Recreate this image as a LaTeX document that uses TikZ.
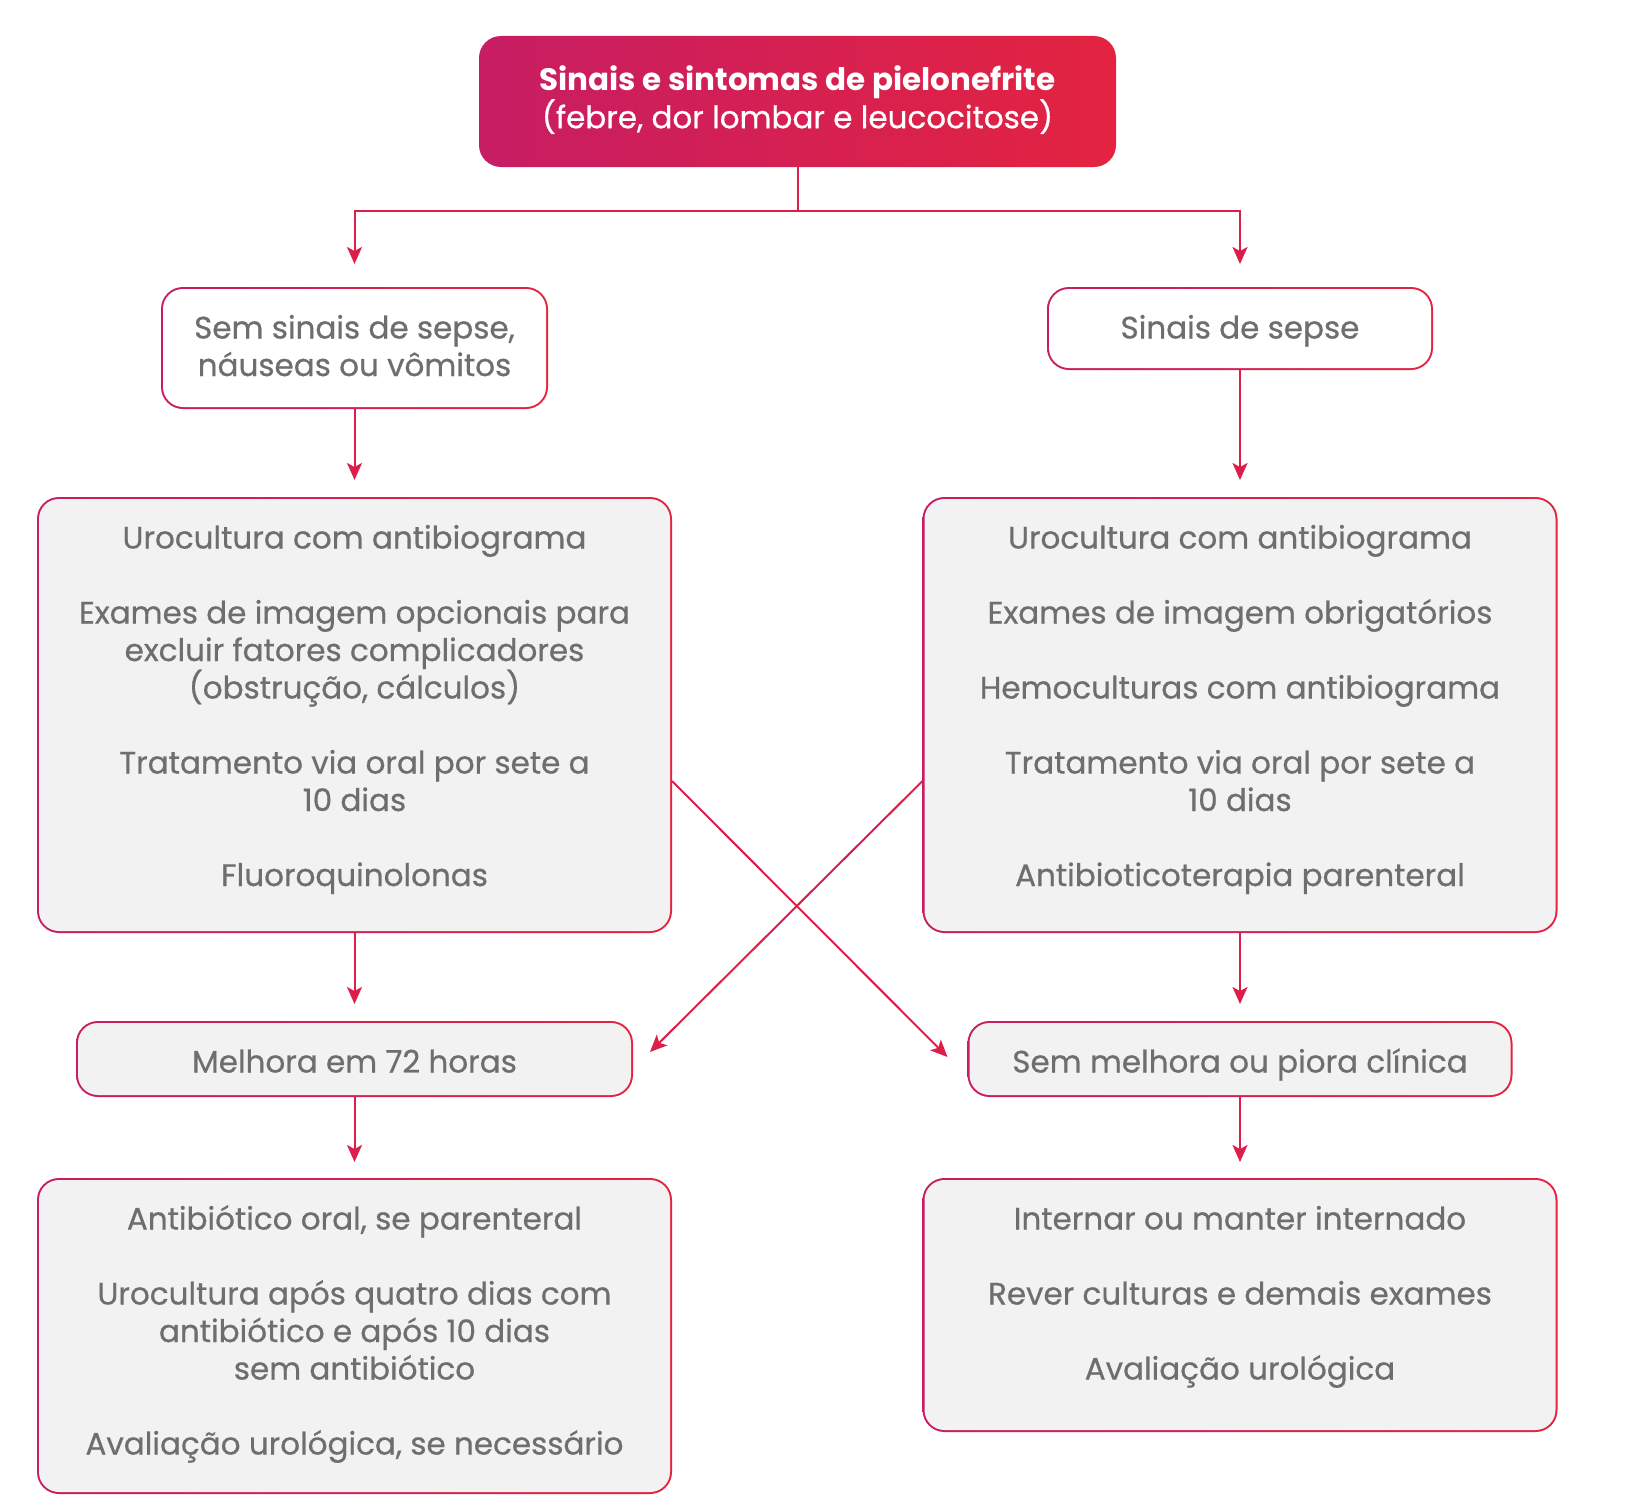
\documentclass[tikz,border=0pt]{standalone}
\usepackage{fontspec}
\setmainfont{Poppins}
\newfontfamily\medfont{Poppins}[FakeBold=0.6]
\usetikzlibrary{arrows.meta}
\definecolor{cA}{HTML}{C71D63}
\definecolor{cB}{HTML}{E32340}
\definecolor{conn}{HTML}{DC1F4A}
\definecolor{boxfill}{HTML}{F2F2F2}
\definecolor{txt}{HTML}{6D6E70}
\newcommand{\bxtext}[4]{\parbox[c][#2][t]{#1}{\centering\rule{0pt}{#3}#4}}
\begin{document}
\begin{tikzpicture}[x=1pt,y=-1pt,
  gbox/.style={rounded corners=22pt, left color=cA, right color=cB, inner sep=0pt, outer sep=0pt, text=txt,
    font=\medfont\fontsize{31pt}{37.5pt}\selectfont,
    path picture={\fill[#1, rounded corners=20pt] ([shift={(2pt,-2pt)}]path picture bounding box.north west) rectangle ([shift={(-2pt,2pt)}]path picture bounding box.south east);}},
  topbox/.style={rounded corners=22pt, left color=cA, right color=cB, inner sep=0pt, outer sep=0pt, text=white,
    font=\fontsize{31pt}{37pt}\selectfont},
  arr/.style={draw=conn, line width=2pt, -{Stealth[length=17pt,width=15pt,inset=4pt]}}
]
\useasboundingbox (0,0) rectangle (1646,1512);

\node[topbox] (top) at (797.5,101.5) {\bxtext{637pt}{131pt}{54pt}{{\bfseries Sinais e sintomas de pielonefrite}\\{\medfont(febre, dor lombar e leucocitose)}}};

\node[gbox=white] (L1) at (354.5,348) {\bxtext{387pt}{122pt}{51.5pt}{Sem sinais de sepse,\\náuseas ou vômitos}};
\node[gbox=white] (R1) at (1240,328.5) {\bxtext{386pt}{83pt}{51.5pt}{Sinais de sepse}};

\node[gbox=boxfill] (bigL) at (354.5,715) {\bxtext{635pt}{436pt}{51.5pt}{Urocultura com antibiograma\\[37.5pt]
Exames de imagem opcionais para\\excluir fatores complicadores\\(obstrução, cálculos)\\[37.5pt]
Tratamento via oral por sete a\\10 dias\\[37.5pt]
Fluoroquinolonas}};
\node[gbox=boxfill] (bigR) at (1240,715) {\bxtext{635pt}{436pt}{51.5pt}{Urocultura com antibiograma\\[37.5pt]
Exames de imagem obrigatórios\\[37.5pt]
Hemoculturas com antibiograma\\[37.5pt]
Tratamento via oral por sete a\\10 dias\\[37.5pt]
Antibioticoterapia parenteral}};

\node[gbox=boxfill] (mel) at (354.5,1059) {\bxtext{557pt}{76pt}{51.5pt}{Melhora em 72 horas}};
\node[gbox=boxfill] (sem) at (1240,1059) {\bxtext{545pt}{76pt}{51.5pt}{Sem melhora ou piora clínica}};

\node[gbox=boxfill] (botL) at (354.5,1336) {\bxtext{635pt}{316pt}{51.5pt}{Antibiótico oral, se parenteral\\[37.5pt]
Urocultura após quatro dias com\\antibiótico e após 10 dias\\sem antibiótico\\[37.5pt]
Avaliação urológica, se necessário}};
\node[gbox=boxfill] (botR) at (1240,1305) {\bxtext{635pt}{254pt}{51.5pt}{Internar ou manter internado\\[37.5pt]
Rever culturas e demais exames\\[37.5pt]
Avaliação urológica}};

\draw[arr] (top.south) -- ++(0,44) -| ([yshift=23pt]L1.north);
\draw[arr] (top.south) -- ++(0,44) -| ([yshift=23pt]R1.north);
\draw[arr] (L1.south) -- ([yshift=17pt]bigL.north);
\draw[arr] (R1.south) -- ([yshift=17pt]bigR.north);
\draw[arr] (bigL.south) -- ([yshift=17pt]mel.north);
\draw[arr] (bigR.south) -- ([yshift=17pt]sem.north);
\draw[arr] (mel.south) -- ([yshift=16pt]botL.north);
\draw[arr] (sem.south) -- ([yshift=16pt]botR.north);
\draw[arr] ([yshift=-66pt]bigL.east) -- ([xshift=-20pt,yshift=2pt]sem.west);
\draw[arr] ([yshift=-66pt]bigR.west) -- ([xshift=17pt,yshift=7pt]mel.east);
\end{tikzpicture}
\end{document}
